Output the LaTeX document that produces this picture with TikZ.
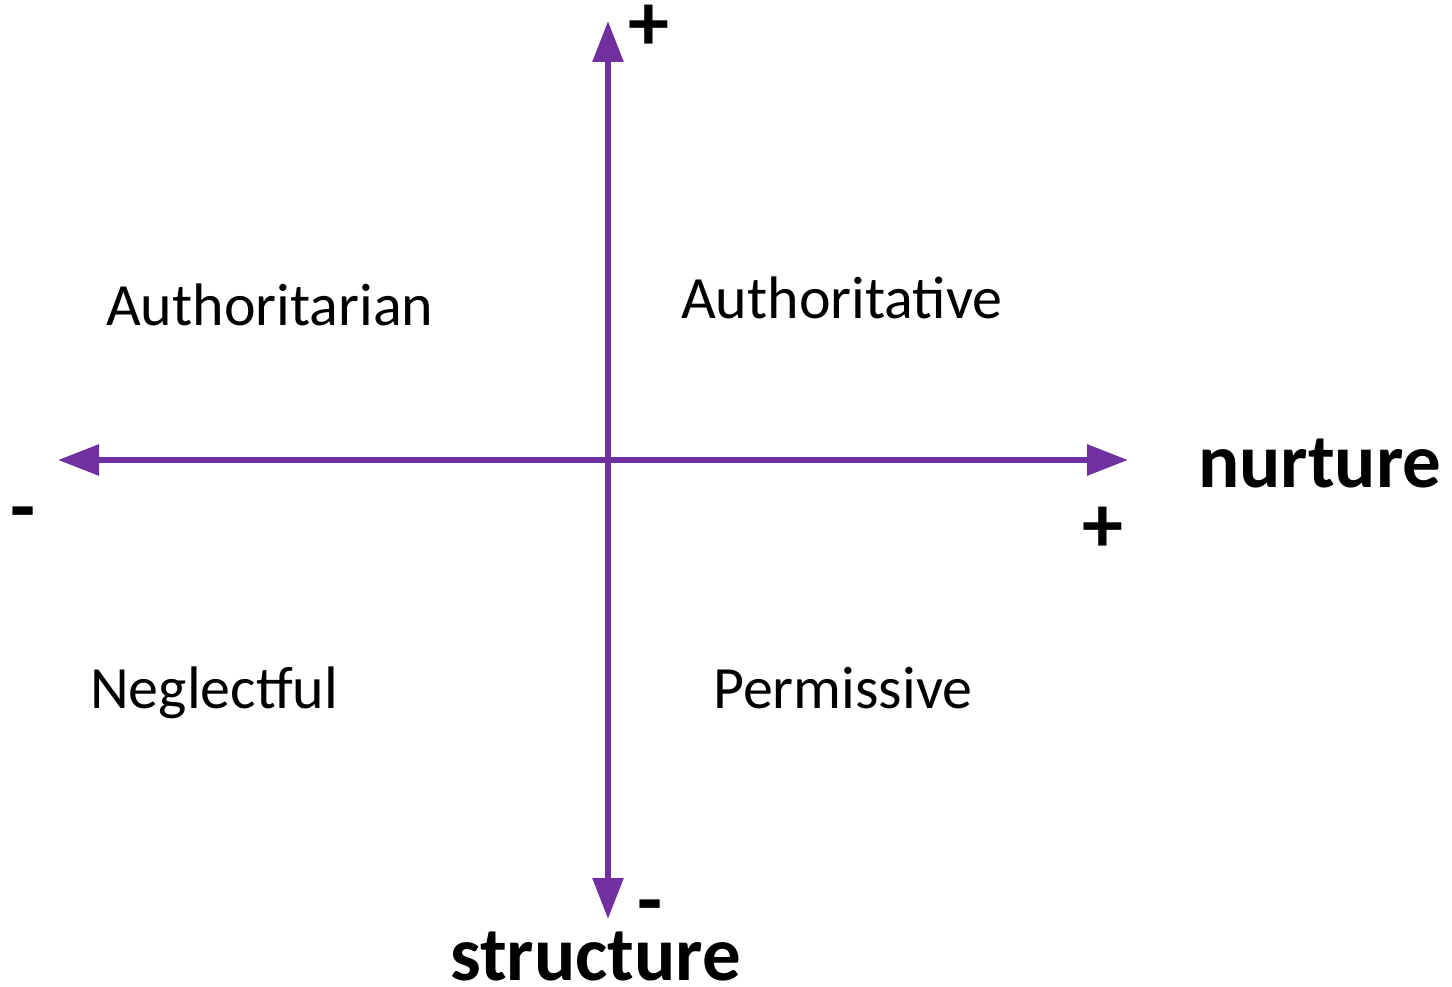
\documentclass[tikz,border=0pt]{standalone}
\usepackage{fontspec}
\setmainfont{Carlito}
\usetikzlibrary{arrows.meta}
\definecolor{axispurple}{HTML}{7030A0}
\begin{document}
\begin{tikzpicture}[x=1pt,y=-1pt,
  axis/.style={draw=axispurple,line width=6pt,
    {Triangle[length=41pt,width=30pt]}-{Triangle[length=41pt,width=30pt]}},
  quadrant/.style={anchor=base west,inner sep=0pt,font=\fontsize{60}{62}\selectfont},
  axislabel/.style={anchor=base west,inner sep=0pt,font=\bfseries\fontsize{77}{80}\selectfont},
  sign/.style={inner sep=0pt,font=\bfseries\fontsize{82}{84}\selectfont}]
  \useasboundingbox (0,0) rectangle (1452,987);

  % axis end points
  \coordinate (L) at (58,460);
  \coordinate (R) at (1128,460);
  \coordinate (T) at (608,21);
  \coordinate (B) at (608,919);

  \draw[axis] (L) -- (R);
  \draw[axis] (B) -- (T);

  % quadrant names
  \node[quadrant] (q1) at (106,326) {Authoritarian};
  \node[quadrant] (q2) at (681,318) {Authoritative};
  \node[quadrant] (q3) at (90,708) {Neglectful};
  \node[quadrant] (q4) at (713,708) {Permissive};

  % axis names
  \node[axislabel] (nurture) at (1198,487) {nurture};
  \node[axislabel] (structure) at (450,980) {structure};

  % signs at the axis ends
  \node[sign] (tplus) at (649,28) {+};
  \node[sign] (rplus) at (1103,530) {+};
  \node[sign,anchor=base] (lminus) at (23,534) {-};
  \node[sign,anchor=base] (bminus) at (650,927) {-};
\end{tikzpicture}
\end{document}
